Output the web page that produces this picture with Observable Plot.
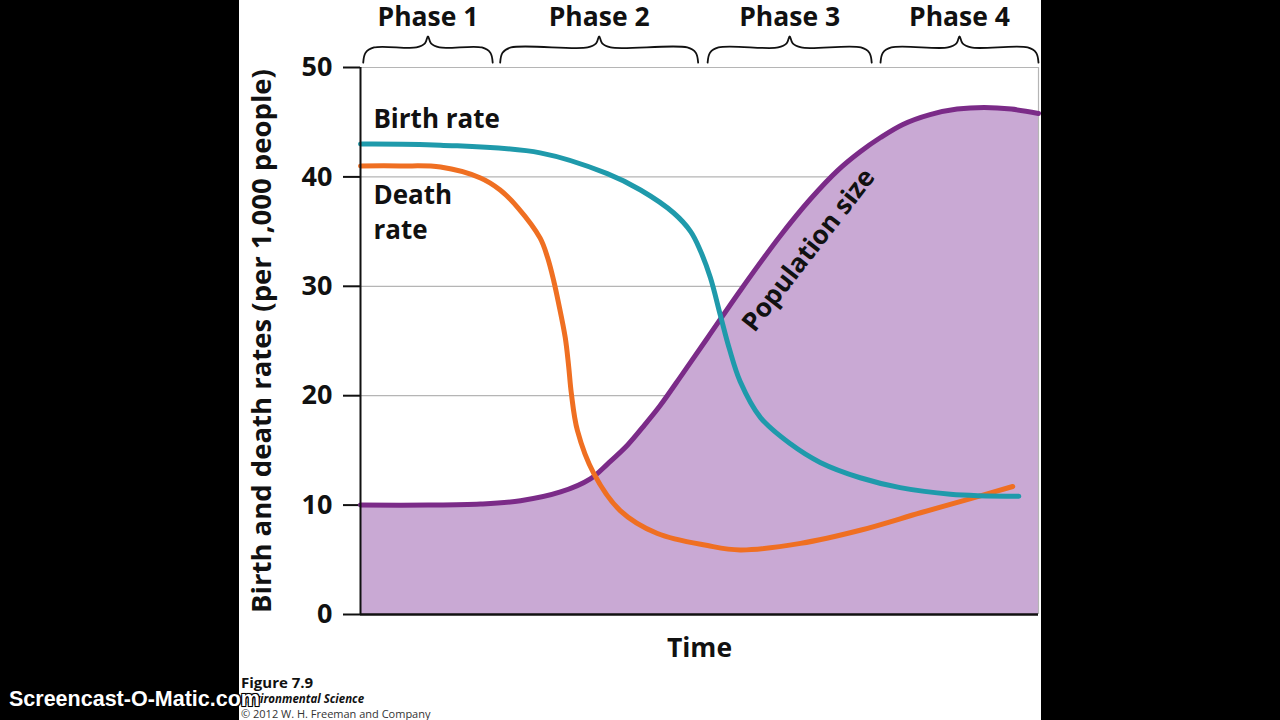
<!DOCTYPE html>
<html>
<head>
<meta charset="utf-8">
<script src="https://cdn.jsdelivr.net/npm/d3@7"></script>
<script src="https://cdn.jsdelivr.net/npm/@observablehq/plot@0.6"></script>
<style>
  html, body { margin: 0; padding: 0; background: #000; width: 1280px; height: 720px; overflow: hidden; }
  #page { position: absolute; left: 239px; top: 0; width: 802px; height: 720px; background: #fff; overflow: hidden; }
  #chart svg { display: block; }
  #chart g[aria-label="y-axis tick"] path { stroke-width: 2px; }
  .cap { position: absolute; left: 2px; font-family: "Open Sans", sans-serif; color: #111; white-space: nowrap; }
  #wm { position: absolute; left: 9px; top: 687px; font-family: "Liberation Sans", Arial, sans-serif; font-weight: bold; font-size: 21.5px; color: #fff; z-index: 5;
        text-shadow: -1px -1px 0 #000, 1px -1px 0 #000, -1px 1px 0 #000, 1px 1px 0 #000, 0 0 2px #000; white-space: nowrap; }
</style>
</head>
<body>
<div id="page">
  <div id="chart"></div>
  <div class="cap" style="top:672px;font-size:15px;font-weight:700;">Figure 7.9</div>
  <div class="cap" style="top:691px;font-size:11.5px;font-weight:700;font-style:italic;">Environmental Science</div>
  <div class="cap" style="top:706px;font-size:11px;font-weight:400;color:#333;">© 2012 W. H. Freeman and Company</div>
</div>
<div id="wm">Screencast-O-Matic.com</div>
<script>
// ---- Data ----
const yTicks = [0, 10, 20, 30, 40, 50];

const birthT    = [0, 11.8, 26.5, 36.4, 41.3, 46.2, 48.7, 50.1, 51.6, 53.1, 54.4, 56.0, 59.0, 63.4, 67.8, 73.7, 79.6, 87.0, 97.1];
const birthRate = [43.0, 42.9, 42.2, 40.3, 38.8, 36.7, 35.0, 33.3, 30.8, 27.3, 24.3, 21.3, 18.0, 15.6, 13.9, 12.5, 11.6, 11.0, 10.8];

const deathT    = [0, 5.9, 11.8, 17.7, 20.6, 23.2, 26.5, 27.6, 28.5, 29.2, 30.2, 30.7, 31.1, 32.0, 34.4, 38.3, 43.8, 51.2, 56.0, 64.9, 73.7, 82.6, 90.0, 96.2];
const deathRate = [41.0, 41.0, 40.9, 39.9, 38.8, 37.2, 34.4, 32.6, 30.5, 28.5, 25.3, 22.7, 20.2, 16.8, 12.9, 9.5, 7.4, 6.3, 5.9, 6.5, 7.7, 9.3, 10.6, 11.7];

const popT    = [0, 10, 17.7, 23.6, 29.5, 33.9, 36.5, 39.4, 42.0, 44.2, 47.5, 51.2, 56.0, 61.9, 66.4, 70.4, 73.7, 76.7, 80, 84, 88, 92, 96, 100];
const popSize = [10, 10, 10.1, 10.4, 11.2, 12.4, 13.8, 15.5, 17.4, 19.1, 22.0, 25.3, 29.6, 34.6, 38.0, 40.6, 42.3, 43.6, 44.8, 45.7, 46.2, 46.35, 46.2, 45.8];

const phaseLabels = ["Phase 1", "Phase 2", "Phase 3", "Phase 4"];
const phaseStart  = [0.4, 20.6, 51.2, 76.7];
const phaseEnd    = [19.5, 49.8, 75.4, 100];

// ---- Build tables ----
const zip = (ts, vs) => ts.map((t, i) => ({t, v: vs[i]}));
const birth = zip(birthT, birthRate);
const death = zip(deathT, deathRate);
const pop = zip(popT, popSize);

// curly braces above the frame, derived from the phase extents
const braces = [];
phaseLabels.forEach((name, k) => {
  const a = phaseStart[k], b = phaseEnd[k], m = (a + b) / 2;
  const pts = [
    [a, 50.45], [a + 0.35, 51.35], [a + 1.6, 51.83],
    [m - 1.7, 51.83], [m - 0.45, 52.2], [m, 52.85], [m + 0.45, 52.2], [m + 1.7, 51.83],
    [b - 1.6, 51.83], [b - 0.35, 51.35], [b, 50.45]
  ];
  pts.forEach(([x, y]) => braces.push({phase: name, x, y}));
});
const phaseMid = phaseLabels.map((name, k) => ({name, x: (phaseStart[k] + phaseEnd[k]) / 2}));

const FONT = "Open Sans, sans-serif";
const INK = "#111";
const CURVE = "catmull-rom";

const chart = Plot.plot({
  width: 802,
  height: 672,
  marginLeft: 121,
  marginRight: 3,
  marginTop: 67,
  marginBottom: 58,
  style: {fontFamily: FONT, fontSize: "27px", fontWeight: "bold", color: INK, background: "transparent", overflow: "visible"},
  x: {domain: [0, 100], axis: null},
  y: {domain: [0, 50], ticks: yTicks, tickSize: 17, tickPadding: 11, label: null, tickFormat: d => d},
  marks: [
    Plot.ruleY(yTicks.filter(d => d > 0), {stroke: "#b5b5b5", strokeWidth: 1.2}),
    Plot.areaY(pop, {x: "t", y: "v", fill: "#c9a9d4", curve: CURVE}),
    Plot.ruleX([100], {stroke: "#b5b5b5", strokeWidth: 1.2}),
    Plot.line(pop, {x: "t", y: "v", stroke: "#7b2b88", strokeWidth: 5, curve: CURVE}),
    Plot.line(death, {x: "t", y: "v", stroke: "#ef6f22", strokeWidth: 5, curve: CURVE}),
    Plot.line(birth, {x: "t", y: "v", stroke: "#1f9aab", strokeWidth: 5, curve: CURVE}),
    Plot.ruleX([0], {stroke: INK, strokeWidth: 2}),
    Plot.ruleY([0], {stroke: INK, strokeWidth: 2.5}),
    Plot.line(braces, {x: "x", y: "y", z: "phase", stroke: INK, strokeWidth: 1.8, curve: "catmull-rom"}),
    Plot.text(phaseMid, {x: "x", y: () => 54.55, text: "name", lineAnchor: "middle", fontSize: 26.5, fontWeight: "bold", fill: INK}),
    Plot.text(["Birth rate"], {x: () => 1.9, y: () => 45.25, textAnchor: "start", fontSize: 26, fontWeight: "bold", fill: INK}),
    Plot.text(["Death\nrate"], {x: () => 1.9, y: () => 36.93, textAnchor: "start", lineHeight: 1.32, fontSize: 26, fontWeight: "bold", fill: INK}),
    Plot.text(["Population size"], {x: () => 66.1, y: () => 33.3, rotate: -52, fontSize: 26, fontWeight: "bold", fill: INK}),
    Plot.text(["Birth and death rates (per 1,000 people)"], {frameAnchor: "left", dx: -98, rotate: -90, textAnchor: "middle", lineAnchor: "middle", fontSize: 27.5, fontWeight: "bold", fill: INK}),
    Plot.text(["Time"], {frameAnchor: "bottom", dy: 34, lineAnchor: "middle", fontSize: 26.5, fontWeight: "bold", fill: INK})
  ]
});
document.getElementById("chart").appendChild(chart);
</script>
</body>
</html>
